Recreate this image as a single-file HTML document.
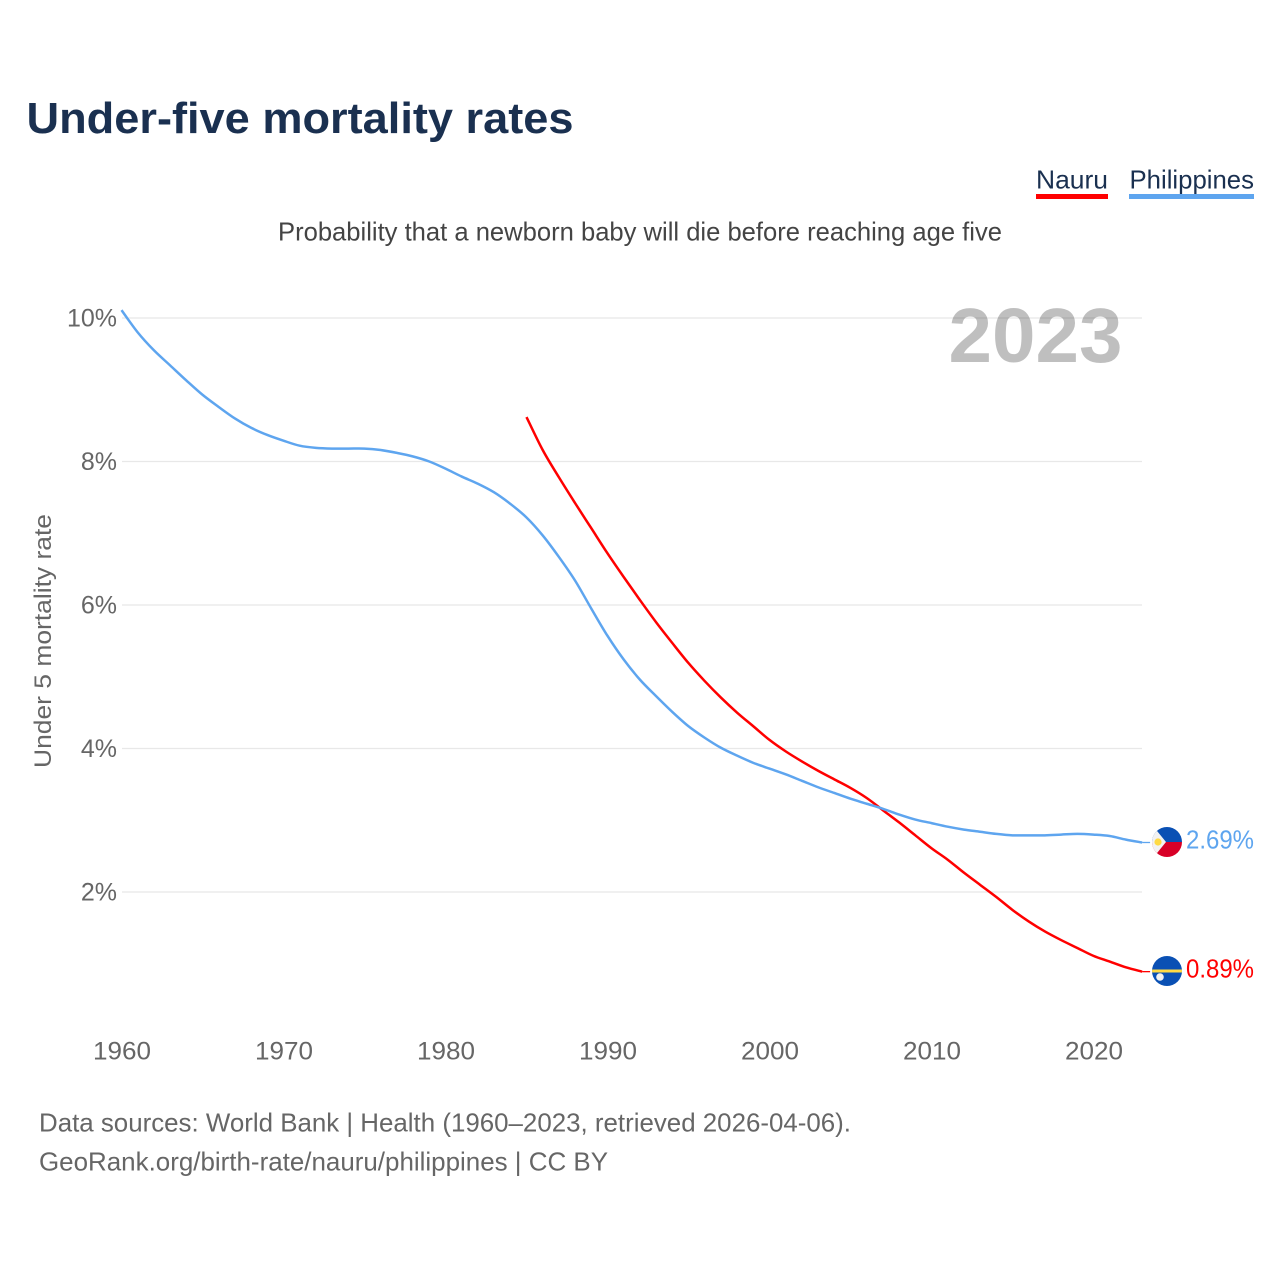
<!DOCTYPE html>
<html lang="en">
<head>
<meta charset="utf-8">
<title>Under-five mortality rates</title>
<style>
html,body{margin:0;padding:0;background:#fff;}
body{width:1280px;height:1280px;overflow:hidden;}
svg{display:block;font-family:"Liberation Sans",sans-serif;}
</style>
</head>
<body>
<svg id="chart" width="1280" height="1280" viewBox="0 0 1280 1280" xmlns="http://www.w3.org/2000/svg">
  <defs>
    <clipPath id="clip-ph"><circle cx="1167" cy="842" r="15"/></clipPath>
    <clipPath id="clip-nr"><circle cx="1167" cy="971" r="15"/></clipPath>
  </defs>
  <rect width="1280" height="1280" fill="#fff"/>
  <text x="26.5" y="133" font-size="44" font-weight="700" fill="#1a3050" textLength="547" lengthAdjust="spacingAndGlyphs">Under-five mortality rates</text>
  <text x="1036" y="188.5" font-size="26" fill="#1a3050" textLength="72" lengthAdjust="spacingAndGlyphs">Nauru</text>
  <rect x="1036" y="194" width="72" height="5" fill="#ff0000"/>
  <text x="1129.5" y="188.5" font-size="26" fill="#1a3050" textLength="124.5" lengthAdjust="spacingAndGlyphs">Philippines</text>
  <rect x="1129" y="194" width="125" height="5" fill="#5ea5ef"/>
  <text x="278" y="240.5" font-size="26" fill="#444" textLength="724" lengthAdjust="spacingAndGlyphs">Probability that a newborn baby will die before reaching age five</text>
  <g id="grid"></g>
  <g id="yticks"></g>
  <g id="xticks"></g>
  <text transform="translate(51,768) rotate(-90)" font-size="24.5" fill="#666" textLength="254" lengthAdjust="spacingAndGlyphs">Under 5 mortality rate</text>
  <text x="948.5" y="362" font-size="77" font-weight="700" fill="#000" fill-opacity="0.25" textLength="174" lengthAdjust="spacingAndGlyphs">2023</text>
  <g id="series"></g>
  <g clip-path="url(#clip-ph)">
    <rect x="1152" y="827" width="30" height="15" fill="#0a50b4"/>
    <rect x="1152" y="842" width="30" height="15" fill="#d80027"/>
    <polygon points="1150,826 1153,826 1166,842 1153,858 1150,858" fill="#f2f2f2"/>
    <circle cx="1158" cy="842" r="3.6" fill="#ffda44"/>
  </g>
  <g clip-path="url(#clip-nr)">
    <rect x="1152" y="956" width="30" height="30" fill="#0a50b4"/>
    <rect x="1152" y="969.5" width="30" height="3" fill="#ffda44"/>
    <circle cx="1160" cy="977" r="3.8" fill="#f2f2f2"/>
  </g>
  <text x="1186" y="848.5" font-size="26" fill="#5ea5ef" textLength="68" lengthAdjust="spacingAndGlyphs">2.69%</text>
  <text x="1186" y="977.5" font-size="26" fill="#ff0000" textLength="68" lengthAdjust="spacingAndGlyphs">0.89%</text>
  <text x="39" y="1131.5" font-size="26" fill="#666" textLength="812" lengthAdjust="spacingAndGlyphs">Data sources: World Bank | Health (1960–2023, retrieved 2026-04-06).</text>
  <text x="39" y="1170.5" font-size="26" fill="#666" textLength="569" lengthAdjust="spacingAndGlyphs">GeoRank.org/birth-rate/nauru/philippines | CC BY</text>
</svg>
<script>
const philippinesStartYear = 1960;
const philippinesValues = [10.11,9.80,9.55,9.34,9.13,8.93,8.76,8.60,8.47,8.37,8.29,8.22,8.19,8.18,8.18,8.18,8.16,8.12,8.07,8.00,7.90,7.79,7.69,7.57,7.41,7.22,6.97,6.67,6.34,5.95,5.57,5.24,4.96,4.73,4.51,4.31,4.15,4.01,3.90,3.80,3.72,3.64,3.55,3.46,3.38,3.30,3.23,3.16,3.08,3.01,2.96,2.91,2.87,2.84,2.81,2.79,2.79,2.79,2.80,2.81,2.80,2.78,2.73,2.69];
const nauruStartYear = 1985;
const nauruValues = [8.62,8.16,7.78,7.42,7.07,6.72,6.39,6.07,5.76,5.47,5.19,4.94,4.71,4.50,4.31,4.12,3.96,3.82,3.69,3.57,3.45,3.31,3.14,2.97,2.79,2.61,2.45,2.27,2.10,1.93,1.75,1.59,1.45,1.33,1.22,1.11,1.03,0.95,0.89];
const yTickValues = [2,4,6,8,10];
const xTickYears = [1960,1970,1980,1990,2000,2010,2020];

const SVG_NS = 'http://www.w3.org/2000/svg';
function xScale(year){ return 121.5 + (year - 1960) * 16.2; }
function yScale(v){ return 892 - (v - 2) * 71.75; }

const grid = document.getElementById('grid');
const yticks = document.getElementById('yticks');
const xticks = document.getElementById('xticks');
const seriesGroup = document.getElementById('series');

yTickValues.forEach(function(v){
  const line = document.createElementNS(SVG_NS, 'line');
  
  
  line.setAttribute('x1', 122);
  line.setAttribute('x2', 1142);
  line.setAttribute('y1', yScale(v));
  line.setAttribute('y2', yScale(v));
  line.setAttribute('stroke', '#e8e8e8');
  line.setAttribute('stroke-width', '1.3');
  grid.appendChild(line);

  const label = document.createElementNS(SVG_NS, 'text');
  
  
  label.setAttribute('x', 117);
  label.setAttribute('y', yScale(v) + 8.5);
  label.setAttribute('text-anchor', 'end');
  label.setAttribute('font-size', '25');
  label.setAttribute('fill', '#666');
  label.textContent = v + '%';
  yticks.appendChild(label);
});

xTickYears.forEach(function(y){
  const label = document.createElementNS(SVG_NS, 'text');
  
  
  label.setAttribute('x', xScale(y) + 0.5);
  label.setAttribute('y', 1059.5);
  label.setAttribute('text-anchor', 'middle');
  label.setAttribute('font-size', '25');
  label.setAttribute('fill', '#666');
  label.setAttribute('textLength', '58');
  label.setAttribute('lengthAdjust', 'spacingAndGlyphs');
  label.textContent = String(y);
  xticks.appendChild(label);
});

function smoothPath(pts){
  let d = 'M' + pts[0][0].toFixed(2) + ' ' + pts[0][1].toFixed(2);
  for (let i = 0; i < pts.length - 1; i++) {
    const p0 = pts[Math.max(i - 1, 0)];
    const p1 = pts[i];
    const p2 = pts[i + 1];
    const p3 = pts[Math.min(i + 2, pts.length - 1)];
    const c1x = p1[0] + (p2[0] - p0[0]) / 6;
    const c1y = p1[1] + (p2[1] - p0[1]) / 6;
    const c2x = p2[0] - (p3[0] - p1[0]) / 6;
    const c2y = p2[1] - (p3[1] - p1[1]) / 6;
    d += 'C' + c1x.toFixed(2) + ' ' + c1y.toFixed(2) + ' ' + c2x.toFixed(2) + ' ' + c2y.toFixed(2) + ' ' + p2[0].toFixed(2) + ' ' + p2[1].toFixed(2);
  }
  return d;
}

function drawSeries(values, startYear, color, name){
  const pts = values.map(function(v, i){
    return [xScale(startYear + i), yScale(v)];
  });
  const line = document.createElementNS(SVG_NS, 'path');
  
  
  line.setAttribute('d', smoothPath(pts));
  line.setAttribute('fill', 'none');
  line.setAttribute('stroke', color);
  line.setAttribute('stroke-width', '2.5');
  line.setAttribute('stroke-linejoin', 'round');
  seriesGroup.appendChild(line);

  const end = pts[pts.length - 1];
  const stub = document.createElementNS(SVG_NS, 'line');
  
  
  stub.setAttribute('x1', end[0]);
  stub.setAttribute('x2', end[0] + 8);
  stub.setAttribute('y1', end[1]);
  stub.setAttribute('y2', end[1]);
  stub.setAttribute('stroke', color);
  stub.setAttribute('stroke-width', '1.3');
  seriesGroup.appendChild(stub);
}
drawSeries(nauruValues, nauruStartYear, '#ff0000', 'line-nauru');
drawSeries(philippinesValues, philippinesStartYear, '#5ea5ef', 'line-philippines');
</script>
</body>
</html>
